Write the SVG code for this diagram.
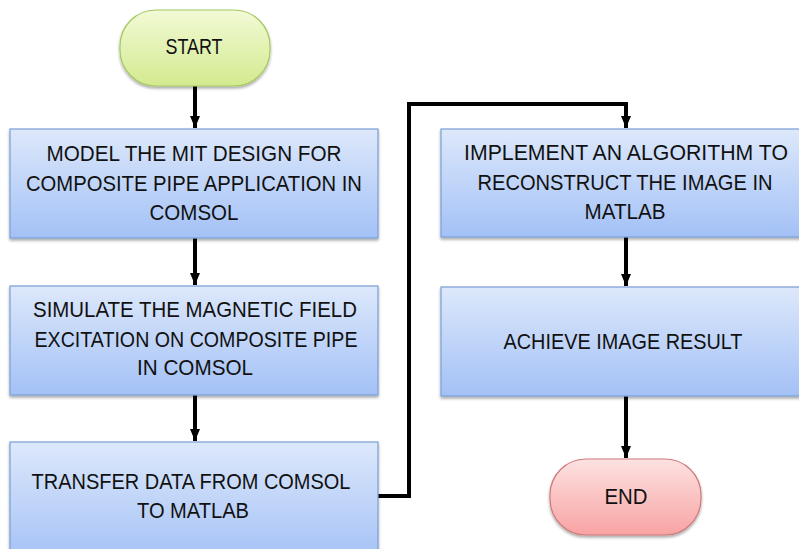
<svg xmlns="http://www.w3.org/2000/svg" width="799" height="549" viewBox="0 0 799 549">
<defs>
<linearGradient id="gBlue" x1="0" y1="0" x2="0" y2="1">
<stop offset="0" stop-color="#dde8fb"/>
<stop offset="1" stop-color="#a3c1f6"/>
</linearGradient>
<linearGradient id="gGreen" x1="0" y1="0" x2="0" y2="1">
<stop offset="0" stop-color="#f2fad6"/>
<stop offset="1" stop-color="#d3ea8f"/>
</linearGradient>
<linearGradient id="gRed" x1="0" y1="0" x2="0" y2="1">
<stop offset="0" stop-color="#fde2e2"/>
<stop offset="1" stop-color="#f8a3a3"/>
</linearGradient>
<filter id="shadow" x="-10%" y="-10%" width="120%" height="130%">
<feGaussianBlur in="SourceAlpha" stdDeviation="1.5"/>
<feOffset dx="0" dy="2" result="b"/>
<feComponentTransfer><feFuncA type="linear" slope="0.35"/></feComponentTransfer>
<feMerge><feMergeNode/><feMergeNode in="SourceGraphic"/></feMerge>
</filter>
<marker id="arrow" markerWidth="12" markerHeight="10" refX="12" refY="5" orient="auto" markerUnits="userSpaceOnUse">
<path d="M0,0 L12,5 L0,10 Z" fill="#000"/>
</marker>
</defs>
<style>
.box{fill:url(#gBlue);stroke:#7b9fd6;stroke-width:1.2;filter:url(#shadow)}
.start{fill:url(#gGreen);stroke:#a6c961;stroke-width:1.2;filter:url(#shadow)}
.end{fill:url(#gRed);stroke:#d07a7a;stroke-width:1.2;filter:url(#shadow)}
text{font-family:"Liberation Sans",Arial,sans-serif;font-size:22px;fill:#111;text-anchor:middle}
.conn{fill:none;stroke:#000;stroke-width:4;marker-end:url(#arrow)}
</style>
<rect width="799" height="549" fill="#fff"/>
<g id="connectors">
<path class="conn" d="M195,86 V128"/>
<path class="conn" d="M195,238 V285"/>
<path class="conn" d="M195,395 V441"/>
<path class="conn" d="M378,496 H409 V104 H626 V128"/>
<path class="conn" d="M626,237 V286"/>
<path class="conn" d="M626,396 V458"/>
</g>
<g id="start">
<rect class="start" x="120" y="10" width="150" height="76" rx="36" ry="36"/>
<text x="194" y="54" textLength="57" lengthAdjust="spacingAndGlyphs">START</text>
</g>
<g id="model">
<rect class="box" x="10" y="129" width="368" height="109"/>
<text x="194" y="161" textLength="295" lengthAdjust="spacingAndGlyphs">MODEL THE MIT DESIGN FOR</text>
<text x="194" y="191" textLength="336" lengthAdjust="spacingAndGlyphs">COMPOSITE PIPE APPLICATION IN</text>
<text x="194" y="220" textLength="89" lengthAdjust="spacingAndGlyphs">COMSOL</text>
</g>
<g id="simulate">
<rect class="box" x="10" y="286" width="368" height="109"/>
<text x="195" y="317" textLength="324" lengthAdjust="spacingAndGlyphs">SIMULATE THE MAGNETIC FIELD</text>
<text x="196" y="347" textLength="323" lengthAdjust="spacingAndGlyphs">EXCITATION ON COMPOSITE PIPE</text>
<text x="195" y="375" textLength="116" lengthAdjust="spacingAndGlyphs">IN COMSOL</text>
</g>
<g id="transfer">
<rect class="box" x="10" y="442" width="368" height="120"/>
<text x="191" y="489" textLength="319" lengthAdjust="spacingAndGlyphs">TRANSFER DATA FROM COMSOL</text>
<text x="193" y="518" textLength="112" lengthAdjust="spacingAndGlyphs">TO MATLAB</text>
</g>
<g id="implement">
<rect class="box" x="441" y="129" width="368" height="108"/>
<text x="626" y="160" textLength="324" lengthAdjust="spacingAndGlyphs">IMPLEMENT AN ALGORITHM TO</text>
<text x="625" y="190" textLength="295" lengthAdjust="spacingAndGlyphs">RECONSTRUCT THE IMAGE IN</text>
<text x="625" y="219" textLength="81" lengthAdjust="spacingAndGlyphs">MATLAB</text>
</g>
<g id="achieve">
<rect class="box" x="441" y="287" width="368" height="109"/>
<text x="623" y="349" textLength="239" lengthAdjust="spacingAndGlyphs">ACHIEVE IMAGE RESULT</text>
</g>
<g id="end">
<rect class="end" x="550" y="459" width="151" height="76" rx="36" ry="36"/>
<text x="626" y="504" textLength="43" lengthAdjust="spacingAndGlyphs">END</text>
</g>
</svg>
